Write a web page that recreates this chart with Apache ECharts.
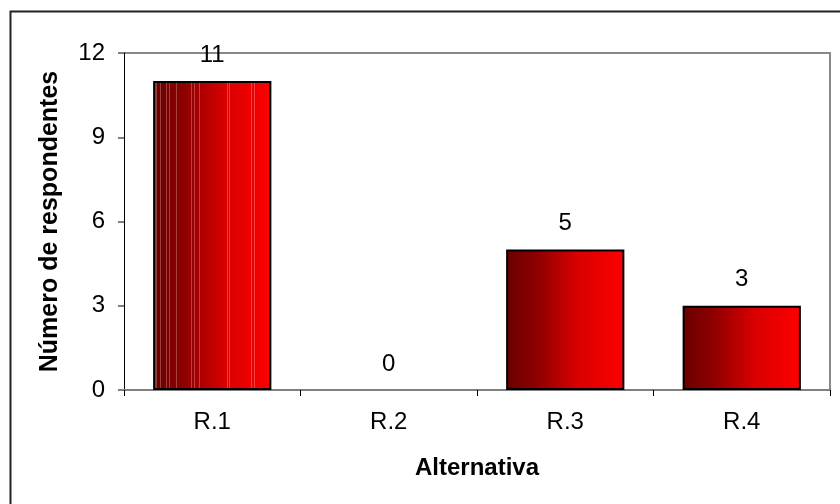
<!DOCTYPE html>
<html><head><meta charset="utf-8">
<script src="https://cdn.jsdelivr.net/npm/echarts@6/dist/echarts.min.js"></script>
<style>html,body{margin:0;padding:0;background:#fff}#c{width:840px;height:504px}</style>
</head><body><div id="c"></div>
<script>
const categories = ['R.1', 'R.2', 'R.3', 'R.4'];
const values = [11, 0, 5, 3];
const yTicks = [0, 3, 6, 9, 12];

const chart = echarts.init(document.getElementById('c'), null, {renderer: 'canvas'});
const baseStops = [[0, [106, 0, 0]], [0.25, [140, 0, 0]], [0.6, [216, 0, 0]], [1, [255, 0, 0]]];
function baseAt(t) {
  for (let i = 1; i < baseStops.length; i++) {
    const [o1, c1] = baseStops[i - 1], [o2, c2] = baseStops[i];
    if (t <= o2) {
      const f = (t - o1) / (o2 - o1);
      return c1.map((v, k) => Math.round(v + (c2[k] - v) * f));
    }
  }
  return baseStops[baseStops.length - 1][1];
}
const rgb = c => `rgb(${c[0]},${c[1]},${c[2]})`;
const plainGrad = () => new echarts.graphic.LinearGradient(0, 0, 1, 0,
  baseStops.map(([o, c]) => ({offset: o, color: rgb(c)})));
// streaky texture seen on the first bar
const streaks = [0.025, 0.062, 0.11, 0.14, 0.195, 0.322, 0.352, 0.394, 0.628, 0.647, 0.83, 0.855];
function streakGrad() {
  const stops = [];
  const w = 0.005;
  stops.push({offset: 0, color: rgb(baseAt(0))});
  streaks.forEach(s => {
    const b = baseAt(s);
    const l = b.map(v => Math.round(v + (255 - v) * 0.25));
    stops.push({offset: s - w, color: rgb(baseAt(s - w))});
    stops.push({offset: s - w + 0.0001, color: rgb(l)});
    stops.push({offset: s + w, color: rgb(l)});
    stops.push({offset: s + w + 0.0001, color: rgb(baseAt(s + w))});
  });
  baseStops.forEach(([o, c]) => stops.push({offset: o, color: rgb(c)}));
  stops.sort((a, b) => a.offset - b.offset);
  return new echarts.graphic.LinearGradient(0, 0, 1, 0, stops);
}

const font = 'Liberation Sans, Arial, sans-serif';
const barData = values.map((v, i) => ({
  value: v,
  itemStyle: {
    color: i === 0 ? streakGrad() : plainGrad(),
    borderColor: '#000',
    borderWidth: v === 0 ? 0 : 2
  }
}));

chart.setOption({
  animation: false,
  graphic: [
    {type: 'rect', shape: {x: 10.5, y: 11.5, width: 900, height: 600}, style: {fill: 'none', stroke: '#222', lineWidth: 2}, z: -1},
    {type: 'polyline', shape: {points: [[124, 53], [830, 53], [830, 390]]}, style: {fill: 'none', stroke: '#888', lineWidth: 2}, z: 0}
  ],
  grid: {left: 124, right: 10, top: 53, bottom: 114, containLabel: false},
  xAxis: {
    type: 'category', data: categories,
    axisLine: {lineStyle: {color: '#808080', width: 2}},
    axisTick: {show: true, length: 6, alignWithLabel: false, lineStyle: {color: '#000'}},
    axisLabel: {color: '#000', fontSize: 24, fontFamily: font, margin: 20},
    name: 'Alternativa', nameLocation: 'middle', nameGap: 66,
    nameTextStyle: {color: '#000', fontSize: 24, fontWeight: 'bold', fontFamily: font}
  },
  yAxis: {
    type: 'value', min: 0, max: 12, interval: 3,
    axisLine: {show: true, lineStyle: {color: '#000', width: 1}},
    axisTick: {show: true, length: 6, lineStyle: {color: '#808080', width: 2}},
    splitLine: {show: false},
    axisLabel: {color: '#000', fontSize: 24, fontFamily: font, margin: 19,
      formatter: v => yTicks.includes(v) ? String(v) : ''},
    name: 'Número de respondentes', nameLocation: 'middle', nameGap: 61,
    nameTextStyle: {color: '#000', fontSize: 25, fontWeight: 'bold', fontFamily: font}
  },
  series: [{
    type: 'bar', data: barData, barCategoryGap: '33%',
    label: {show: true, position: 'top', distance: 14, color: '#000', fontSize: 24, fontFamily: font}
  }]
});
</script></body></html>
